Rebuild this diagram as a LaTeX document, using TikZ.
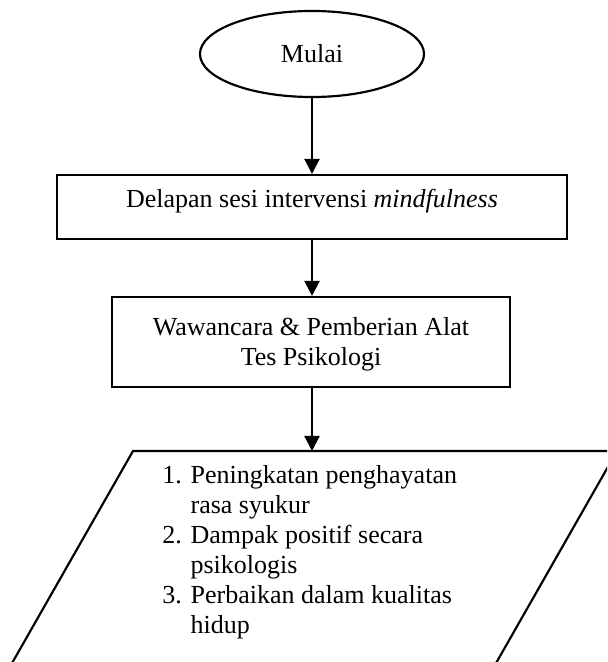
\documentclass[tikz,border=0pt]{standalone}
\usepackage{fontspec}
\setmainfont{Liberation Serif}
\usetikzlibrary{shapes.geometric,arrows.meta}
\tikzset{
  every node/.style={font=\fontsize{12}{13.85}\selectfont},
  startnode/.style={draw, line width=1pt, ellipse, minimum width=103.4pt, minimum height=39.7pt, inner sep=0pt},
  procbox/.style={draw, line width=1pt, rectangle, align=center, inner sep=0pt},
  plain/.style={inner sep=0pt},
  flow/.style={line width=1pt, -{Triangle[length=7pt,width=7pt]}},
  outline/.style={line width=1pt}
}
\begin{document}
\begin{tikzpicture}[x=0.4615pt, y=-0.4615pt]
\useasboundingbox (0,0) rectangle (607,662);
\node[startnode] (mulai) at (312,54) {Mulai};
\node[procbox, minimum width=235.4pt, minimum height=29.5pt] (sesi) at (312,207) {};
\node[plain, anchor=base] (sesitext) at (312,208) {Delapan sesi intervensi \textit{mindfulness}};
\node[procbox, minimum width=183.7pt, minimum height=41.5pt] (tes) at (311,342) {};
\node[plain, anchor=base] (tes1) at (311,335) {Wawancara \& Pemberian Alat};
\node[plain, anchor=base] (tes2) at (311,365) {Tes Psikologi};
\coordinate (ptl) at (133,451);
\coordinate (ptr) at (617,451);
\coordinate (pbr) at (475,700);
\coordinate (pbl) at (-9,700);
\coordinate (ptop) at (312,451);
\begin{scope}
\clip (0,0) rectangle (607,662);
\draw[outline] (ptl) -- (ptr) -- (pbr) -- (pbl) -- cycle;
\end{scope}
\node[anchor=base west, plain, align=left] (hasil) at (162,483) {%
\begin{tabular}[t]{@{}l@{\hspace{4pt}}l@{}}
1. & Peningkatan penghayatan\\
   & rasa syukur\\
2. & Dampak positif secara\\
   & psikologis\\
3. & Perbaikan dalam kualitas\\
   & hidup
\end{tabular}};
\draw[flow] (mulai.south) -- (sesi.north);
\draw[flow] (sesi.south) -- (sesi.south |- tes.north);
\draw[flow] (sesi.south |- tes.south) -- (ptop);
\end{tikzpicture}
\end{document}
